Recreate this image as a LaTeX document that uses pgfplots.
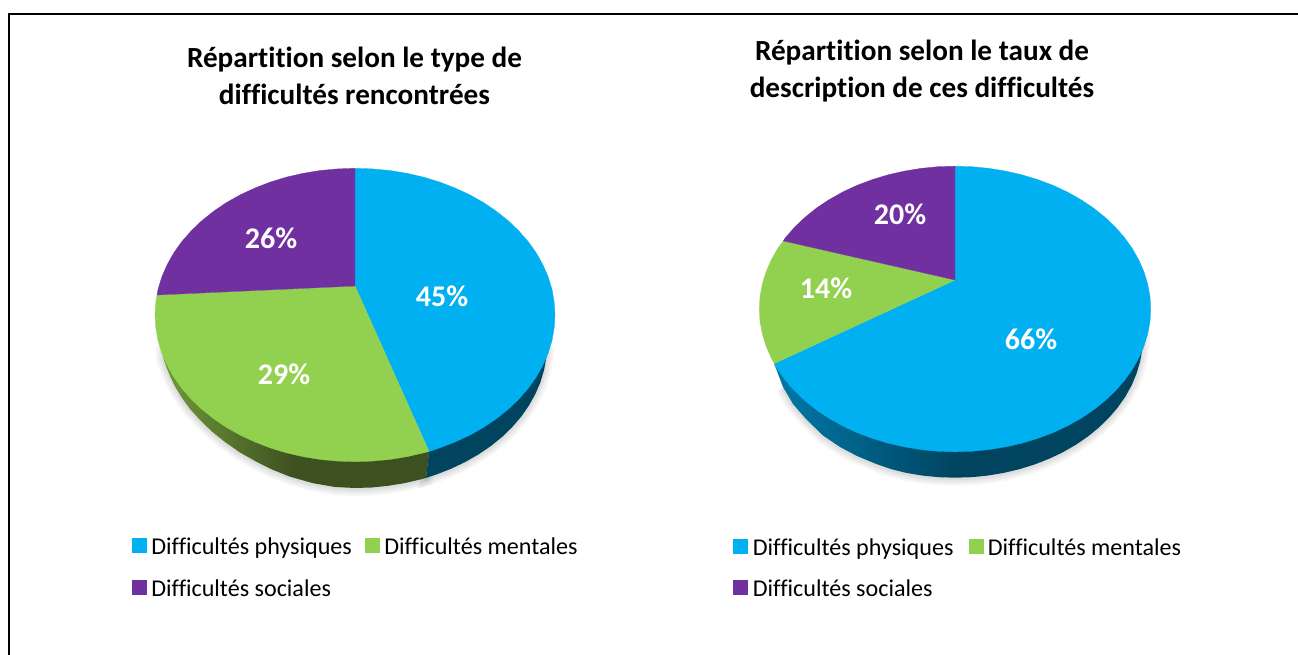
\documentclass[border=0pt]{standalone}
\usepackage{fontspec}
\setmainfont[Ligatures=NoCommon]{Carlito}
\usepackage{pgfplots}
\usepackage{pgfplotstable}
\pgfplotsset{compat=1.18}
\definecolor{cblue}{HTML}{00B0F0}
\definecolor{cgreen}{HTML}{92D050}
\definecolor{cpurple}{HTML}{7030A0}
\definecolor{sgreenL}{HTML}{6F9A3A}
\definecolor{sgreenD}{HTML}{3D5020}
\definecolor{sblueD}{HTML}{00445F}
\definecolor{sblueL}{HTML}{0079A8}

% ---- left pie: 45 / 29 / 26
\pgfplotstableread{
x y
355 286
355 168.3
372.4 168.9
389.7 170.5
406.8 173.3
423.4 177.1
439.5 182
455 188
469.7 194.8
483.6 202.6
496.4 211.3
508.2 220.7
518.8 230.9
528.2 241.6
536.3 253
542.9 264.8
548.2 277
552 289.5
554.2 302.2
555 315
554.2 327.8
552 340.5
548.2 353
542.9 365.2
536.3 377
528.2 388.4
518.8 399.1
508.2 409.3
496.4 418.7
483.6 427.4
469.7 435.2
455 442
439.5 448
429 451.5
}\LBlue
\pgfplotstableread{
x y
355 286
429 451.5
423.4 452.9
406.8 456.7
389.7 459.5
372.4 461.1
355 461.7
337.6 461.1
320.3 459.5
303.2 456.7
286.6 452.9
270.5 448
255 442
240.3 435.2
226.4 427.4
213.6 418.7
201.8 409.3
191.2 399.1
181.8 388.4
173.7 377
167.1 365.2
161.8 353
158 340.5
155.8 327.8
155 315
155.8 302.2
157 295
}\LGreen
\pgfplotstableread{
x y
355 286
157 295
158 289.5
161.8 277
167.1 264.8
173.7 253
181.8 241.6
191.2 230.9
201.8 220.7
213.6 211.3
226.4 202.6
240.3 194.8
255 188
270.5 182
286.6 177.1
303.2 173.3
320.3 170.5
337.6 168.9
355 168.3
}\LPurple
\pgfplotstableread{
x y
429 451.5
426 477.9
436.1 474.6
451 468.8
465.1 462.1
478.4 454.5
490.8 446.1
502.1 436.9
512.3 427
521.3 416.5
529 405.4
535.4 393.9
540.5 382
544.1 369.8
546.3 357.5
547 345
}\LSideBlue
\pgfplotstableread{
x y
429 451.5
426 477.9
420.7 479.4
404.7 483.1
388.3 485.8
371.7 487.5
355 488
335 487
313 483.2
290 476.7
272 469.5
256 461.5
240 452.5
225 442
212 431.6
200 420
190 409
182 398
175 386.5
170 376
166 366
163 357
163 345
}\LSideGreen

% ---- right pie: 66 / 14 / 20
\pgfplotstableread{
x y
955 280
955 166.2
972.1 166.7
989 168.4
1005.6 171.1
1021.9 174.8
1037.7 179.6
1052.9 185.3
1067.3 192
1080.8 199.6
1093.4 208
1104.9 217.2
1115.3 227.1
1124.5 237.6
1132.4 248.7
1138.9 260.2
1144 272
1147.7 284.2
1150 296.6
1150.7 309
1150 321.4
1147.7 333.8
1144 346
1138.9 357.8
1132.4 369.3
1124.5 380.4
1115.3 390.9
1104.9 400.8
1093.4 410
1080.8 418.4
1067.3 426
1052.9 432.7
1037.7 438.4
1021.9 443.2
1005.6 446.9
989 449.6
972.1 451.3
955 451.8
937.9 451.3
921 449.6
904.4 446.9
888.1 443.2
872.3 438.4
857.1 432.7
842.7 426
829.2 418.4
816.6 410
805.1 400.8
794.7 390.9
785.5 380.4
777.6 369.3
774.3 363.5
}\RBlue
\pgfplotstableread{
x y
955 280
774.3 363.5
771.1 357.8
766 346
762.3 333.8
760 321.4
759.3 309
760 296.6
762.3 284.2
766 272
771.1 260.2
777.6 248.7
783.3 240.9
}\RGreen
\pgfplotstableread{
x y
955 280
783.3 240.9
785.5 237.6
794.7 227.1
805.1 217.2
816.6 208
829.2 199.6
842.7 192
857.1 185.3
872.3 179.6
888.1 174.8
904.4 171.1
921 168.4
937.9 166.7
955 166.2
}\RPurple
\pgfplotstableread{
x y
774.3 363.5
1143 337
1142.3 349.3
1140.1 361.4
1136.6 373.4
1131.7 385.1
1125.4 396.5
1117.8 407.4
1109 417.7
1099 427.4
1087.9 436.5
1075.8 444.8
1062.8 452.3
1049 458.8
1034.5 464.5
1019.3 469.2
1003.7 472.9
987.6 475.6
971.4 477.2
955 477.7
938.6 477.2
922.4 475.6
906.3 472.9
890.7 469
875 463.5
857 456
840 447
823 435.5
806 419
793 404
783 387
}\RSideBlue
\pgfplotstableread{
x y
774.3 363.5
783 387
778 374
774.8 364.5
}\RSideGreen

\pgfplotsset{
  pagebase/.style={
    at={(0pt,0pt)}, anchor=south west,
    scale only axis, width=1298pt, height=655pt,
    xmin=0, xmax=1298, ymin=0, ymax=655, y dir=reverse,
    hide axis, clip=true,
    legend columns=2,
    legend cell align=left,
    legend style={draw=none, fill=none, inner sep=0pt, outer sep=0pt,
      font=\fontsize{24.1}{26}\selectfont,
      nodes={inner sep=0pt, anchor=base west, text height=15pt, text depth=5pt},
      row sep=20pt},
    legend image code/.code={\fill[##1] (0pt,2.5pt) rectangle (14pt,16.5pt);},
    table/x=x, table/y=y,
  },
  shadowed/.style={draw=black, fill=none, opacity=0.035, forget plot},
}
\tikzset{
  lbl/.style={font=\fontsize{30}{32}\selectfont\bfseries, text=white, inner sep=0pt},
  ttl/.style={font=\fontsize{29.2}{37}\selectfont\bfseries, align=center, inner sep=0pt, text=black},
}

\begin{document}
\begin{tikzpicture}
\path[use as bounding box] (0pt,0pt) rectangle (1298pt,655pt);

% ---------- left chart ----------
\begin{axis}[pagebase,
  legend style={at={(132/1298,1-538/655)}, anchor=north west,
    /tikz/column 2/.style={column sep=13pt},
    /tikz/column 3/.style={column sep=5pt},
    /tikz/column 1/.style={column sep=5pt}}]
\addplot[black, line width=2pt, forget plot] coordinates {(9,655) (9,14) (1298,14)};
\pgfplotsinvokeforeach{14,10,6,3}{
  \addplot[shadowed, line width=#1pt, yshift=-1pt] table {\LSideBlue};
  \addplot[shadowed, line width=#1pt, yshift=-1pt] table {\LSideGreen};
}
\addplot[forget plot, draw=none, left color=sgreenL, right color=sgreenD, middle color=sgreenD] table {\LSideGreen};
\addplot[forget plot, draw=none, fill=sblueD] table {\LSideBlue};
\addplot[fill=cblue, draw=cblue, line width=0.3pt] table {\LBlue};
\addlegendentry{Difficultés physiques}
\addplot[fill=cgreen, draw=cgreen, line width=0.3pt] table {\LGreen};
\addlegendentry{Difficultés mentales}
\addplot[fill=cpurple, draw=cpurple, line width=0.3pt] table {\LPurple};
\addlegendentry{Difficultés sociales}
\node[lbl] at (axis cs:442,296) {45\%};
\node[lbl] at (axis cs:284,374) {29\%};
\node[lbl] at (axis cs:271,238) {26\%};
\node[ttl] at (axis cs:354.5,75.5) {Répartition selon le type de\\difficultés rencontrées};
\end{axis}

% ---------- right chart ----------
\begin{axis}[pagebase,
  legend style={at={(733/1298,1-538.7/655)}, anchor=north west,
    /tikz/column 2/.style={column sep=15pt},
    /tikz/column 3/.style={column sep=5pt},
    /tikz/column 1/.style={column sep=5.5pt}}]
\pgfplotsinvokeforeach{14,10,6,3}{
  \addplot[shadowed, line width=#1pt, yshift=-1pt] table {\RSideBlue};
}
\addplot[forget plot, draw=none, fill=sgreenL] table {\RSideGreen};
\addplot[forget plot, draw=none, left color=sblueL, right color=sblueD, middle color=sblueD] table {\RSideBlue};
\addplot[fill=cblue, draw=cblue, line width=0.3pt] table {\RBlue};
\addlegendentry{Difficultés physiques}
\addplot[fill=cgreen, draw=cgreen, line width=0.3pt] table {\RGreen};
\addlegendentry{Difficultés mentales}
\addplot[fill=cpurple, draw=cpurple, line width=0.3pt] table {\RPurple};
\addlegendentry{Difficultés sociales}
\node[lbl] at (axis cs:1031,339) {66\%};
\node[lbl] at (axis cs:826,288) {14\%};
\node[lbl] at (axis cs:900,214) {20\%};
\node[ttl] at (axis cs:922,71.5) {Répartition selon le taux de\\description de ces difficultés};
\end{axis}
\end{tikzpicture}
\end{document}
